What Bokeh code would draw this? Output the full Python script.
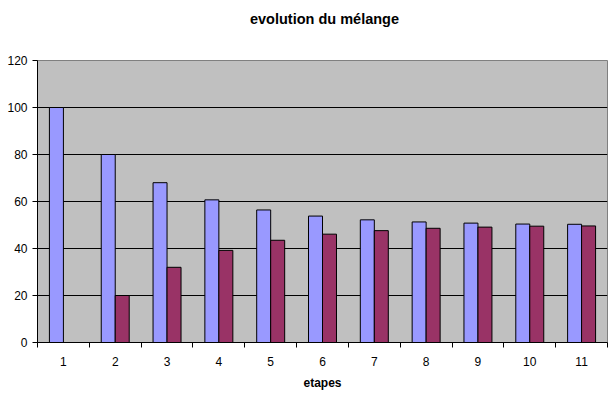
from bokeh.plotting import figure
from bokeh.layouts import column
from bokeh.models import ColumnDataSource, FixedTicker, Range1d
from bokeh.core.properties import value
from bokeh.transform import dodge
from bokeh.embed import file_html
from bokeh.resources import INLINE

etapes = [1, 2, 3, 4, 5, 6, 7, 8, 9, 10, 11]
serie_a = [100, 80, 68, 60.7, 56.4, 53.8, 52.2, 51.3, 50.8, 50.4, 50.3]
serie_b = [0, 20, 32, 39.2, 43.5, 46.1, 47.6, 48.6, 49.1, 49.5, 49.6]
y_ticks = [0, 20, 40, 60, 80, 100, 120]
titre = "evolution du mélange"

source = ColumnDataSource(data=dict(x=etapes, a=serie_a, b=serie_b))

# title strip (separate figure so the title can sit high above the plot frame)
t = figure(width=610, height=36, output_backend="svg", toolbar_location=None,
           x_range=Range1d(0, 1), y_range=Range1d(0, 1),
           x_axis_type=None, y_axis_type=None,
           min_border_left=37, min_border_right=3, min_border_top=0, min_border_bottom=0)
t.outline_line_color = None
t.background_fill_color = "white"
t.border_fill_color = "white"
t.grid.visible = False
t.text(x=[0.5], y=[0.5], text=[titre], x_offset=2,
       text_align="center", text_baseline="middle",
       text_font=value("Liberation Sans"), text_font_size="14.5px",
       text_font_style="bold", text_color="black")

p = figure(width=610, height=357, output_backend="svg", toolbar_location=None,
           x_range=Range1d(0.5, 11.5), y_range=Range1d(0, 120),
           min_border_left=37, min_border_right=3, min_border_top=24,
           min_border_bottom=51)

p.background_fill_color = "#C0C0C0"
p.border_fill_color = "white"
p.outline_line_color = "#808080"
p.outline_line_width = 1

p.vbar(x=dodge("x", -0.135, range=p.x_range), top="a", width=0.27, source=source,
       fill_color="#9999FF", line_color="black", line_width=1)
p.vbar(x=dodge("x", 0.135, range=p.x_range), top="b", width=0.27, source=source,
       fill_color="#993366", line_color="black", line_width=1)

# y axis
p.yaxis.ticker = FixedTicker(ticks=y_ticks)
p.yaxis.major_tick_out = 5
p.yaxis.major_tick_in = 0
p.yaxis.minor_tick_out = 0
p.yaxis.minor_tick_in = 0
p.yaxis.major_label_standoff = 5
p.yaxis.axis_line_color = "black"
p.yaxis.major_tick_line_color = "black"
p.yaxis.major_label_text_font = "Liberation Sans"
p.yaxis.major_label_text_font_size = "12px"
p.yaxis.major_label_text_color = "black"

# x axis: labels at categories, ticks between them
p.xaxis.ticker = FixedTicker(ticks=etapes, minor_ticks=[e - 0.5 for e in etapes] + [11.5])
p.xaxis.major_tick_out = 0
p.xaxis.major_tick_in = 0
p.xaxis.minor_tick_out = 5
p.xaxis.minor_tick_in = 0
p.xaxis.minor_tick_line_color = "black"
p.xaxis.axis_line_color = "black"
p.xaxis.major_label_standoff = 9
p.xaxis.major_label_text_font = "Liberation Sans"
p.xaxis.major_label_text_font_size = "12px"
p.xaxis.major_label_text_color = "black"
p.xaxis.axis_label = "etapes"
p.xaxis.axis_label_standoff = 7
p.xaxis.axis_label_text_font = "Liberation Sans"
p.xaxis.axis_label_text_font_size = "12px"
p.xaxis.axis_label_text_font_style = "bold"
p.xaxis.axis_label_text_color = "black"

p.xgrid.grid_line_color = None
p.ygrid.ticker = FixedTicker(ticks=y_ticks)
p.ygrid.grid_line_color = "black"
p.ygrid.grid_line_alpha = 1
p.ygrid.level = "underlay"

layout = column(t, p, spacing=0)
open("out.html", "w").write(file_html(layout, INLINE))
